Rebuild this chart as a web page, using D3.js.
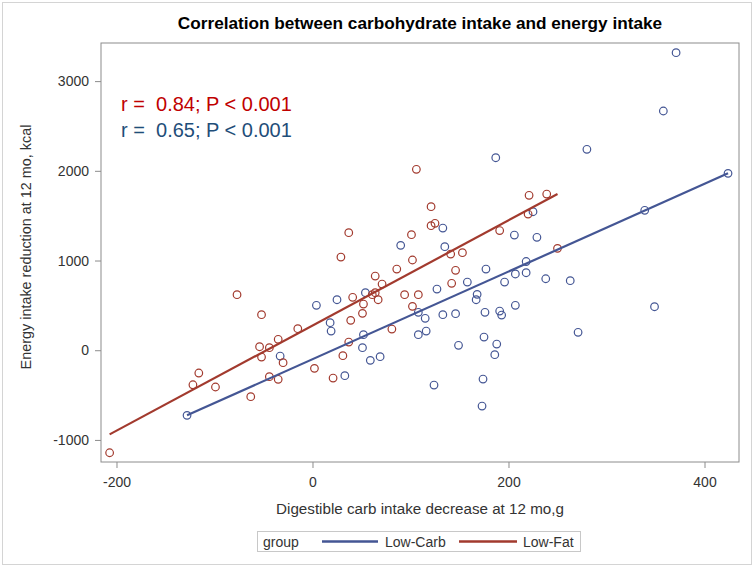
<!DOCTYPE html>
<html>
<head>
<meta charset="utf-8">
<script src="https://cdn.jsdelivr.net/npm/d3@7"></script>
<style>
  html, body { margin: 0; padding: 0; background: #fff; }
  svg text { font-family: Arial, "Liberation Sans", sans-serif; }
</style>
</head>
<body>
<svg id="chart" width="754" height="568"></svg>
<script>
// ---- data ----
const groups = ["Low-Carb", "Low-Fat"];
const groupColors = ["#445694", "#A23A2E"];

// Low-Carb: [carb intake decrease (g), energy intake reduction (kcal)]
const lowCarbPoints = [
  [187, 2146], [371, 3317], [358, 2667], [280, 2240], [424, 1972], [225, 1544],
  [339, 1560], [206, 1284], [229, 1259], [133, 1362], [90, 1169], [135, 1154],
  [218, 989], [177, 905], [196, 760], [207, 850], [218, 864], [238, 797],
  [263, 775], [176, 423], [191, 437], [193, 392], [207, 501], [349, 485],
  [175, 147], [271, 200], [188, 69], [186, -50], [174, -321], [173, -622],
  [158, 760], [127, 682], [168, 623], [167, 563], [54, 641], [25, 563],
  [4, 501], [108, 423], [115, 356], [133, 396], [146, 407], [18, 307],
  [19, 214], [52, 173], [108, 173], [116, 214], [51, 28], [149, 55],
  [59, -113], [69, -72], [33, -284], [124, -388], [-33, -65], [-128, -726]
];

// Low-Fat
const lowFatPoints = [
  [106, 2017], [121, 1600], [121, 1388], [125, 1415], [37, 1310], [101, 1288],
  [141, 1072], [153, 1087], [29, 1039], [102, 1006], [191, 1334], [221, 1727],
  [239, 1741], [220, 1518], [250, 1136], [146, 891], [86, 905], [64, 827],
  [71, 738], [142, 746], [61, 619], [64, 641], [41, 590], [67, 563],
  [94, 619], [108, 619], [52, 515], [102, 489], [51, 411], [39, 333],
  [81, 236], [37, 91], [31, -61], [2, -202], [21, -310], [-77, 619],
  [-52, 396], [-15, 240], [-35, 122], [-54, 39], [-44, 28], [-52, -76],
  [-30, -139], [-116, -254], [-122, -385], [-99, -410], [-44, -295], [-35, -324],
  [-63, -518], [-207, -1143]
];

// fitted regression lines (endpoints)
const lowCarbFit = [[-128, -726], [424, 1972]];
const lowFatFit = [[-207, -938], [250, 1741]];

const xTicks = [-200, 0, 200, 400];
const yTicks = [-1000, 0, 1000, 2000, 3000];

const annotations = [
  { text: "r =  0.84; P < 0.001", color: "#c00000" },
  { text: "r =  0.65; P < 0.001", color: "#1f4e79" }
];

const titleText = "Correlation between carbohydrate intake and energy intake";
const xLabel = "Digestible carb intake decrease at 12 mo,g";
const yLabel = "Energy intake reduction at 12 mo, kcal";
const legendTitle = "group";

// ---- drawing ----
const svg = d3.select("#chart");
const W = 754, H = 568;
const plot = { left: 101, right: 739, top: 43, bottom: 462 };

const x = d3.scaleLinear().domain([-215.8, 435.2]).range([plot.left, plot.right]);
const y = d3.scaleLinear().domain([-1246, 3425]).range([plot.bottom, plot.top]);

// outer border
svg.append("rect")
  .attr("x", 2.5).attr("y", 2.5).attr("width", W - 5).attr("height", H - 6)
  .attr("fill", "#fff").attr("stroke", "#d4d4d4").attr("stroke-width", 1);

// title
svg.append("text")
  .attr("x", (plot.left + plot.right) / 2).attr("y", 29)
  .attr("text-anchor", "middle")
  .attr("font-size", "17.2px").attr("font-weight", "bold").attr("fill", "#000")
  .text(titleText);

// axes
const xAxis = d3.axisBottom(x).tickValues(xTicks).tickSize(6).tickPadding(6).tickFormat(d3.format("d"));
const yAxis = d3.axisLeft(y).tickValues(yTicks).tickSize(6).tickPadding(6).tickFormat(d3.format("d"));

const gx = svg.append("g").attr("transform", `translate(0,${plot.bottom})`).call(xAxis);
const gy = svg.append("g").attr("transform", `translate(${plot.left},0)`).call(yAxis);
[gx, gy].forEach(g => {
  g.select(".domain").remove();
  g.selectAll(".tick line").attr("stroke", "#8c8c8c");
  g.selectAll(".tick text").attr("font-size", "14px").attr("fill", "#333")
    .attr("font-family", "Arial, 'Liberation Sans', sans-serif");
});
gx.selectAll(".tick text").attr("dy", "0.9em");
gx.selectAll(".tick text").text(d => d < 0 ? "-" + Math.abs(d) : d);
gy.selectAll(".tick text").text(d => d < 0 ? "-" + Math.abs(d) : d);

// plot frame
svg.append("rect")
  .attr("x", plot.left).attr("y", plot.top)
  .attr("width", plot.right - plot.left).attr("height", plot.bottom - plot.top)
  .attr("fill", "none").attr("stroke", "#8c8c8c").attr("stroke-width", 1);

// axis labels
svg.append("text")
  .attr("x", (plot.left + plot.right) / 2).attr("y", 514)
  .attr("text-anchor", "middle").attr("font-size", "15.2px").attr("fill", "#333")
  .text(xLabel);

svg.append("text")
  .attr("transform", `translate(31,${247}) rotate(-90)`)
  .attr("text-anchor", "middle").attr("font-size", "14.4px").attr("fill", "#333")
  .text(yLabel);

// annotations
annotations.forEach((a, i) => {
  svg.append("text")
    .attr("x", 121).attr("y", 111 + i * 25.5)
    .attr("font-size", "20px").attr("fill", a.color)
    .style("white-space", "pre")
    .text(a.text);
});

// fit lines
const line = d3.line().x(d => x(d[0])).y(d => y(d[1]));
const fits = [lowCarbFit, lowFatFit];
const pts = [lowCarbPoints, lowFatPoints];

// points
pts.forEach((p, gi) => {
  svg.append("g").selectAll("circle").data(p).join("circle")
    .attr("cx", d => x(d[0])).attr("cy", d => y(d[1])).attr("r", 3.8)
    .attr("fill", "none").attr("stroke", groupColors[gi]).attr("stroke-width", 1.2);
});

fits.forEach((f, gi) => {
  svg.append("path").datum(f).attr("d", line)
    .attr("fill", "none").attr("stroke", groupColors[gi]).attr("stroke-width", 2.2);
});

// legend
const lg = svg.append("g");
lg.append("rect").attr("x", 257.5).attr("y", 531.5).attr("width", 323).attr("height", 20)
  .attr("fill", "#fff").attr("stroke", "#c8c8c8").attr("stroke-width", 1);
lg.append("text").attr("x", 263).attr("y", 546.5).attr("font-size", "14px").attr("fill", "#333").text(legendTitle);
const legendItems = [
  { x1: 322, x2: 378, tx: 385 },
  { x1: 459, x2: 517, tx: 523 }
];
groups.forEach((g, i) => {
  const it = legendItems[i];
  lg.append("line").attr("x1", it.x1).attr("x2", it.x2).attr("y1", 541.5).attr("y2", 541.5)
    .attr("stroke", groupColors[i]).attr("stroke-width", 2.5);
  lg.append("text").attr("x", it.tx).attr("y", 546.5).attr("font-size", "14px").attr("fill", "#333").text(g);
});
</script>
</body>
</html>
